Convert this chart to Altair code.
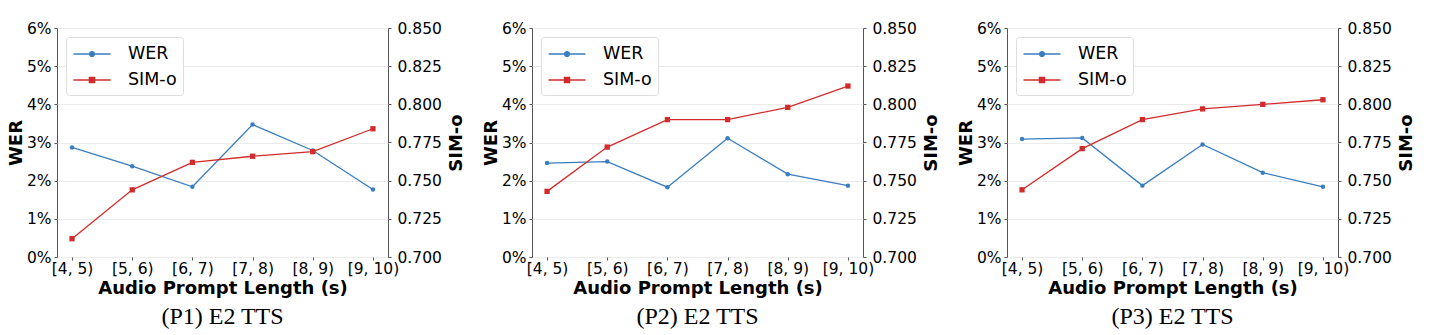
import altair as alt
import pandas as pd

bins = ["[4, 5)", "[5, 6)", "[6, 7)", "[7, 8)", "[8, 9)", "[9, 10)"]
wer_p1 = [2.87, 2.38, 1.84, 3.47, 2.79, 1.77]
sim_p1 = [0.712, 0.744, 0.762, 0.766, 0.769, 0.784]
wer_p2 = [2.46, 2.50, 1.83, 3.11, 2.17, 1.87]
sim_p2 = [0.743, 0.772, 0.790, 0.790, 0.798, 0.812]
wer_p3 = [3.09, 3.12, 1.87, 2.95, 2.21, 1.84]
sim_p3 = [0.744, 0.771, 0.790, 0.797, 0.800, 0.803]
captions = ["(P1) E2 TTS", "(P2) E2 TTS", "(P3) E2 TTS"]
series = ["WER", "SIM-o"]
wer_ticks = [0, 1, 2, 3, 4, 5, 6]
sim_ticks = [0.700, 0.725, 0.750, 0.775, 0.800, 0.825, 0.850]

BLUE = "#3a7dc0"
RED = "#d22b2b"
colors = [BLUE, RED]
FONT = "DejaVu Sans"
LABEL_SIZE = 15.5
TITLE_SIZE = 18
# legend glyphs: a line with a marker in its middle (drawn wider than the symbol box)
legend_paths = [
    "M-1.85,0H1.85M0.24,0A0.24,0.24 0 1,1 -0.24,0A0.24,0.24 0 1,1 0.24,0Z",
    "M-1.85,0H1.85M-0.26,-0.26H0.26V0.26H-0.26Z",
]

W, H = 331, 229


def panel(wer, sim, caption):
    df = pd.DataFrame({"bin": bins, "wer": wer, "sim": sim})
    xenc = alt.X(
        "bin:O",
        sort=bins,
        scale=alt.Scale(type="point", padding=0.25),
        axis=alt.Axis(
            title="Audio Prompt Length (s)",
            labelAngle=0,
            labelFont=FONT,
            labelFontSize=LABEL_SIZE,
            labelPadding=1,
            titleFont=FONT,
            titleFontSize=TITLE_SIZE,
            titleFontWeight="bold",
            titlePadding=3,
            grid=False,
        ),
    )
    base = alt.Chart(df).encode(x=xenc)
    wer_layer = base.mark_line(
        color=BLUE,
        strokeWidth=1.3,
        point=alt.OverlayMarkDef(filled=True, size=20, color=BLUE, opacity=1),
    ).encode(
        y=alt.Y(
            "wer:Q",
            scale=alt.Scale(domain=[0, 6], nice=False, zero=True),
            axis=alt.Axis(
                orient="left",
                values=wer_ticks,
                labelExpr="datum.value + '%'",
                title="WER",
                grid=True,
                gridColor="#ececec",
                labelFont=FONT,
                labelFontSize=LABEL_SIZE,
                labelPadding=3,
                titleFont=FONT,
                titleFontSize=TITLE_SIZE,
                titleFontWeight="bold",
                titlePadding=1,
            ),
        )
    )
    sim_layer = base.mark_line(
        color=RED,
        strokeWidth=1.3,
        point=alt.OverlayMarkDef(filled=True, size=28, color=RED, shape="square", opacity=1),
    ).encode(
        y=alt.Y(
            "sim:Q",
            scale=alt.Scale(domain=[0.70, 0.85], nice=False, zero=False),
            axis=alt.Axis(
                orient="right",
                values=sim_ticks,
                format=".3f",
                title="SIM-o",
                grid=False,
                labelFont=FONT,
                labelFontSize=LABEL_SIZE,
                labelPadding=6,
                titleFont=FONT,
                titleFontSize=TITLE_SIZE,
                titleFontWeight="bold",
                titleAngle=270,
                titleBaseline="top",
                titlePadding=6,
            ),
        )
    )
    leg = alt.Legend(
        title=None,
        orient="top-left",
        offset=9,
        symbolSize=400,
        symbolStrokeWidth=1.3,
        symbolOpacity=1,
        symbolOffset=9,
        labelOffset=25,
        labelFont=FONT,
        labelFontSize=17.5,
        labelColor="black",
        padding=6,
        rowPadding=6,
        fillColor="white",
        strokeColor="#dddddd",
        cornerRadius=3,
    )
    ldf = pd.DataFrame({"series": series})
    legend_layer = alt.Chart(ldf).mark_point(filled=True, opacity=0).encode(
        fill=alt.Fill("series:N", scale=alt.Scale(domain=series, range=colors), legend=leg),
        stroke=alt.Stroke("series:N", scale=alt.Scale(domain=series, range=colors), legend=leg),
        shape=alt.Shape("series:N", scale=alt.Scale(domain=series, range=legend_paths), legend=leg),
    )
    return (
        alt.layer(wer_layer, sim_layer, legend_layer)
        .resolve_scale(y="independent")
        .properties(
            width=W,
            height=H,
            title=alt.Title(
                caption,
                orient="bottom",
                font="Liberation Serif",
                fontSize=24,
                fontWeight="normal",
                color="black",
                offset=7,
            ),
        )
    )


chart = (
    alt.hconcat(
        panel(wer_p1, sim_p1, captions[0]),
        panel(wer_p2, sim_p2, captions[1]),
        panel(wer_p3, sim_p3, captions[2]),
        spacing=15,
    )
    .resolve_scale(fill="independent", stroke="independent", shape="independent")
    .properties(padding={"left": 6, "top": 20, "right": 0, "bottom": 0}, background="white")
    .configure_view(stroke="#555555", strokeWidth=1)
    .configure_axis(
        domain=False,
        tickColor="#555555",
        tickSize=3,
        labelColor="black",
        titleColor="black",
        labelFont=FONT,
        titleFont=FONT,
    )
)

chart.save("out.html", embed_options={"renderer": "svg", "actions": False})
